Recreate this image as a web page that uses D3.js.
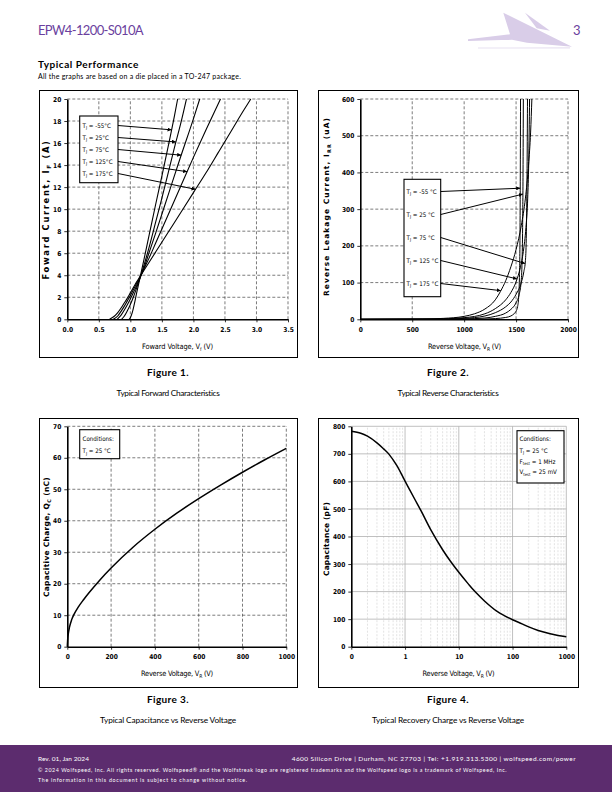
<!DOCTYPE html>
<html><head><meta charset="utf-8">
<script src="https://cdn.jsdelivr.net/npm/d3@7"></script>
<style>body{margin:0;background:#fff}svg{display:block}</style>
</head><body>
<svg id="page" width="612" height="792"></svg>
<script>
// ---------------- DATA ----------------
// Figure 1: forward characteristics [V, A]
const fwdLabels = ["T_{J} = -55°C","T_{J} = 25°C","T_{J} = 75°C","T_{J} = 125°C","T_{J} = 175°C"];
const fwdM55 = [[0.98,0],[1.0,0.15],[1.03,0.6],[1.06,1.3],[1.1,2.4],[1.15,3.7],[1.2,5.0],[1.3,7.7],[1.4,10.4],[1.5,13.0],[1.6,15.7],[1.7,18.5],[1.75,20]];
const fwd25  = [[0.86,0],[0.9,0.25],[0.95,0.75],[1.0,1.35],[1.05,2.05],[1.1,2.85],[1.15,3.7],[1.2,4.6],[1.3,6.6],[1.4,8.8],[1.5,11.0],[1.6,13.3],[1.7,15.6],[1.8,17.8],[1.89,20]];
const fwd75  = [[0.79,0],[0.85,0.35],[0.9,0.8],[0.95,1.3],[1.0,1.85],[1.05,2.45],[1.1,3.05],[1.15,3.7],[1.2,4.4],[1.3,6.1],[1.4,7.8],[1.6,11.3],[1.8,14.8],[2.0,18.2],[2.1,20]];
const fwd125 = [[0.73,0],[0.8,0.3],[0.85,0.7],[0.9,1.15],[0.95,1.65],[1.0,2.15],[1.05,2.7],[1.1,3.25],[1.15,3.8],[1.2,4.4],[1.3,5.6],[1.4,6.9],[1.6,9.5],[1.8,12.1],[2.0,14.7],[2.2,17.2],[2.43,20]];
const fwd175 = [[0.67,0],[0.75,0.3],[0.8,0.6],[0.85,1.0],[0.9,1.45],[0.95,1.9],[1.0,2.4],[1.05,2.9],[1.1,3.4],[1.15,3.85],[1.2,4.3],[1.3,5.2],[1.4,6.1],[1.6,7.9],[1.8,9.7],[2.0,11.5],[2.2,13.3],[2.4,15.2],[2.6,17.1],[2.8,19.0],[2.91,20]];
const fwdArrowCurrents = [17.2,16.1,14.9,13.4,11.8];
const fwdXTicks = [0,0.5,1,1.5,2,2.5,3,3.5];
const fwdYTicks = [0,2,4,6,8,10,12,14,16,18,20];

// Figure 2: reverse characteristics [V, uA]
const revLabels = ["T_{J} = -55 °C","T_{J} = 25 °C","T_{J} = 75 °C","T_{J} = 125 °C","T_{J} = 175 °C"];
const revM55 = [[0,0],[1000,0.2],[1200,0.8],[1300,2],[1400,5],[1450,9],[1480,15],[1500,22],[1515,35],[1525,60],[1532,110],[1537,200],[1540,350],[1543,600]];
const rev25  = [[0,0],[900,0.5],[1000,1],[1200,3.5],[1300,8],[1400,17],[1450,27],[1500,45],[1530,68],[1548,100],[1558,160],[1563,250],[1567,400],[1570,600]];
const rev75  = [[0,0],[800,0.5],[1000,2.5],[1200,9],[1300,18],[1400,34],[1450,47],[1500,68],[1550,100],[1575,130],[1590,160],[1598,220],[1603,320],[1607,450],[1610,600]];
const rev125 = [[0,0],[700,0.5],[1000,4.5],[1200,15],[1300,29],[1400,53],[1450,73],[1500,102],[1540,140],[1570,185],[1595,250],[1612,330],[1622,430],[1630,600]];
const rev175 = [[0,0],[600,0.8],[800,2.5],[1000,8],[1100,15],[1200,28],[1300,53],[1350,76],[1400,105],[1450,143],[1500,190],[1550,255],[1590,330],[1620,420],[1640,510],[1652,600]];
const revArrowCurrents = [357,341,152,110,78];
const revXTicks = [0,500,1000,1500,2000];
const revYTicks = [0,100,200,300,400,500,600];

// Figure 3: capacitive charge [V, nC]
const qcVolt   = [0,2,5,10,20,30,50,75,100,150,200,300,400,500,600,700,800,900,1000];
const qcCharge = [0,2.5,4.3,6.2,8.6,10.2,12.6,15.0,17.2,21.3,25.0,31.6,37.3,42.4,47.0,51.3,55.4,59.3,63];
const qcXTicks = [0,200,400,600,800,1000];
const qcYTicks = [0,10,20,30,40,50,60,70];

// Figure 4: capacitance [V, pF]
const capVolt = [0.1,0.15,0.2,0.3,0.4,0.5,0.7,1,1.5,2,3,5,7,10,15,20,30,50,70,100,150,200,300,500,700,1000];
const capPf   = [782,775,764,740,718,699,658,601,537,492,425,352,310,270,228,200,166,130,113,98,83,72,59,47,41,36];
const capXTicks = [0.1,1,10,100,1000];
const capXLabels = ["0","1","10","100","1000"];
const capYTicks = [0,100,200,300,400,500,600,700,800];

// ---------------- DRAW ----------------
const NARROW = "'Liberation Sans Narrow','Arial Narrow','DejaVu Sans Condensed',sans-serif";
const VERD = "'DejaVu Sans',Verdana,sans-serif";
const BODY = "Lato,'Open Sans',sans-serif";
const svg = d3.select("#page");
const defs = svg.append("defs");
defs.append("marker").attr("id","arr").attr("viewBox","0 0 6 6").attr("refX",6).attr("refY",3)
  .attr("markerWidth",4).attr("markerHeight",4).attr("orient","auto")
  .append("path").attr("d","M0,0L6,3L0,6z").attr("fill","#000");

function rich(t, str, fs){
  let shift = false;
  str.split(/(_\{[^}]*\})/).forEach(p=>{
    if(!p) return;
    if(p.startsWith("_{")){
      t.append("tspan").attr("dy", fs*0.28).style("font-size", (fs*0.68)+"px").text(p.slice(2,-1));
      shift = true;
    } else {
      const s = t.append("tspan").text(p);
      if(shift){ s.attr("dy", -fs*0.28); shift=false; }
    }
  });
  return t;
}
function txt(x,y,str,o){
  o = o||{};
  let size = o.size||8;
  const t = svg.append("text").attr("x",x).attr("y",y)
    .attr("font-family",o.family||BODY).attr("font-size",size)
    .attr("font-weight",o.weight||"normal").attr("fill",o.fill||"#000")
    .attr("text-anchor",o.anchor||"start");
  if(o.rotate) t.attr("transform",`rotate(-90,${x},${y})`);
  rich(t,str,size);
  if(o.fit){
    const L = t.node().getComputedTextLength();
    const n = t.text().length;
    t.attr("letter-spacing", ((o.fit-L)/n).toFixed(3));
  }
  return t;
}
function frame(x0,y0,x1,y1){
  svg.append("rect").attr("x",x0).attr("y",y0).attr("width",x1-x0).attr("height",y1-y0)
    .attr("fill","none").attr("stroke","#000").attr("stroke-width",1);
}
function interpX(series, target){
  for(let i=1;i<series.length;i++){
    const [x0,y0]=series[i-1],[x1,y1]=series[i];
    if((y0-target)*(y1-target)<=0 && y1!==y0) return x0+(target-y0)/(y1-y0)*(x1-x0);
  }
  return series[series.length-1][0];
}
function grid(x,y,xv,yv,st){
  const g = svg.append("g").attr("stroke",st.color).attr("stroke-width",st.width||0.8)
    .attr("stroke-dasharray",st.dash||null).attr("fill","none");
  xv.forEach(v=>g.append("line").attr("x1",x(v)).attr("x2",x(v)).attr("y1",y.range()[0]).attr("y2",y.range()[1]));
  yv.forEach(v=>g.append("line").attr("y1",y(v)).attr("y2",y(v)).attr("x1",x.range()[0]).attr("x2",x.range()[1]));
}
function axes(x,y,xTicks,yTicks,xFmt,yFmt){
  const gx = svg.append("g").attr("transform",`translate(0,${y.range()[0]})`)
    .call(d3.axisBottom(x).tickValues(xTicks).tickFormat(xFmt).tickSize(3).tickSizeOuter(0).tickPadding(5));
  const gy = svg.append("g").attr("transform",`translate(${x.range()[0]},0)`)
    .call(d3.axisLeft(y).tickValues(yTicks).tickFormat(yFmt).tickSize(3).tickSizeOuter(0).tickPadding(3));
  [gx,gy].forEach(g=>{
    g.select(".domain").attr("stroke","#000").attr("stroke-width",1.6);
    g.selectAll(".tick line").attr("stroke","#000").attr("stroke-width",0.8);
    g.selectAll(".tick text").attr("font-family",NARROW).attr("font-weight","bold").attr("font-size",6.6).attr("fill","#000");
  });
}
function curve(x,y,data,w,c){
  svg.append("path").datum(data).attr("fill","none").attr("stroke","#000").attr("stroke-width",w||1.1)
    .attr("stroke-linejoin","round")
    .attr("d",d3.line().x(d=>x(d[0])).y(d=>y(d[1])).curve(c||d3.curveMonotoneX));
}
function box(x0,y0,x1,y1){
  svg.append("rect").attr("x",x0).attr("y",y0).attr("width",x1-x0).attr("height",y1-y0)
    .attr("fill","#fff").attr("stroke","#000").attr("stroke-width",1.1);
}

// Header
svg.append("polygon").attr("points","468,39.3 510,34.3 503.3,12.7 572,46.7 527,42.7 512,39.8 468,40.9").attr("fill","#d9cde8");
svg.append("polygon").attr("points","525,12.7 550,30.7 536.7,28.3").attr("fill","#d9cde8");
svg.append("polygon").attr("points","478,47.6 570,47.2 570,48.4 478,48.4").attr("fill","#e8e1f1");
txt(38,35,"EPW4-1200-S010A",{size:13,fill:"#6b3f9e",fit:105});
txt(573,35,"3",{size:13,fill:"#6b3f9e"});
txt(38,68,"Typical Performance",{size:10,weight:"bold",fit:101});
txt(38,79,"All the graphs are based on a die placed in a TO-247 package.",{size:7,fit:203});

// ---------- Figure 1 ----------
frame(39.5,90.5,297.5,357.5);
{
  const x = d3.scaleLinear([0,3.5],[67.3,288]);
  const y = d3.scaleLinear([0,20],[319.3,99]);
  grid(x,y,fwdXTicks.slice(1),fwdYTicks.slice(1),{color:"#444",dash:"3,2",width:0.7});
  const series=[fwdM55,fwd25,fwd75,fwd125,fwd175];
  series.forEach(s=>curve(x,y,s));
  axes(x,y,fwdXTicks,fwdYTicks,d3.format(".1f"),d3.format("d"));
  box(79.7,116,118,182.7);
  fwdLabels.forEach((l,i)=>{
    const cy = 125.5+12*i;
    txt(82.5,cy+2.2,l,{family:NARROW,size:6.2});
    const tx = interpX(series[i],fwdArrowCurrents[i]);
    svg.append("line").attr("x1",118).attr("y1",cy).attr("x2",x(tx)).attr("y2",y(fwdArrowCurrents[i]))
      .attr("stroke","#000").attr("stroke-width",1).attr("marker-end","url(#arr)");
  });
  txt(177.5,349,"Foward Voltage, V_{f} (V)",{family:NARROW,size:7.4,anchor:"middle",fit:71});
  txt(49,209.5,"Foward Current, I_{F} (A)",{family:VERD,size:8.4,weight:"bold",anchor:"middle",rotate:true,fit:140});
}
txt(168,376,"Figure 1.",{size:10,weight:"bold",anchor:"middle",fit:42});
txt(168,396,"Typical Forward Characteristics",{size:8.3,anchor:"middle",fit:103});

// ---------- Figure 2 ----------
frame(318.5,90.5,578.5,357.5);
{
  const x = d3.scaleLinear([0,2000],[360.3,568]);
  const y = d3.scaleLinear([0,600],[319.3,99]);
  grid(x,y,revXTicks.slice(1),revYTicks.slice(1),{color:"#444",dash:"3,2",width:0.7});
  const series=[revM55,rev25,rev75,rev125,rev175];
  series.forEach(s=>curve(x,y,s,1));
  axes(x,y,revXTicks,revYTicks,d3.format("d"),d3.format("d"));
  box(404,179.3,440.7,296.7);
  revLabels.forEach((l,i)=>{
    const cy = 191.5+23*i;
    txt(406.5,cy+2.2,l,{family:NARROW,size:6.2});
    const tx = interpX(series[i],revArrowCurrents[i]);
    svg.append("line").attr("x1",440.7).attr("y1",cy).attr("x2",x(tx)).attr("y2",y(revArrowCurrents[i]))
      .attr("stroke","#000").attr("stroke-width",1).attr("marker-end","url(#arr)");
  });
  txt(464.5,349,"Reverse Voltage, V_{R} (V)",{family:NARROW,size:7.4,anchor:"middle",fit:73});
  txt(329,206.5,"Reverse Leakage Current, I_{RR} (uA)",{family:VERD,size:7.4,weight:"bold",anchor:"middle",rotate:true,fit:179});
}
txt(448,376,"Figure 2.",{size:10,weight:"bold",anchor:"middle",fit:42});
txt(448,396,"Typical Reverse Characteristics",{size:8.3,anchor:"middle",fit:101});

// ---------- Figure 3 ----------
frame(39.5,418.5,297.5,687.5);
{
  const x = d3.scaleLinear([0,1000],[67.3,286.3]);
  const y = d3.scaleLinear([0,70],[646.7,426.3]);
  grid(x,y,qcXTicks.slice(1),qcYTicks.slice(1),{color:"#444",dash:"3,2",width:0.7});
  curve(x,y,qcVolt.map((v,i)=>[v,qcCharge[i]]),1.5);
  axes(x,y,qcXTicks,qcYTicks,d3.format("d"),d3.format("d"));
  box(79.7,429.7,119.7,458.7);
  txt(82.5,440.5,"Conditions:",{family:NARROW,size:6.2});
  txt(82.5,453,"T_{J} = 25 °C",{family:NARROW,size:6.2});
  txt(177,676,"Reverse Voltage, V_{R} (V)",{family:NARROW,size:7.4,anchor:"middle",fit:72});
  txt(49,537,"Capacitive Charge, Q_{C} (nC)",{family:VERD,size:7.4,weight:"bold",anchor:"middle",rotate:true,fit:120});
}
txt(168,703,"Figure 3.",{size:10,weight:"bold",anchor:"middle",fit:42});
txt(168,723,"Typical Capacitance vs Reverse Voltage",{size:8.3,anchor:"middle",fit:136});

// ---------- Figure 4 ----------
frame(318.5,418.5,578.5,687.5);
{
  const x = d3.scaleLog([0.1,1000],[351.3,566.3]);
  const y = d3.scaleLinear([0,800],[646.7,426.3]);
  const minor=[];
  [0.1,1,10,100].forEach(d=>{for(let k=2;k<=9;k++) minor.push(d*k);});
  grid(x,y,minor,[],{color:"#d0d0d0",dash:"2,1.5",width:0.6});
  grid(x,y,capXTicks.slice(1),capYTicks.slice(1),{color:"#b0b0b0",width:0.8});
  curve(x,y,capVolt.map((v,i)=>[v,capPf[i]]),1.5,d3.curveCatmullRom.alpha(0.5));
  axes(x,y,capXTicks,capYTicks,(d,i)=>capXLabels[i],d3.format("d"));
  box(517,430.7,564,483);
  txt(519.5,440.5,"Conditions:",{family:NARROW,size:6.2});
  txt(519.5,452.5,"T_{J} = 25 °C",{family:NARROW,size:6.2});
  txt(519.5,463.5,"F_{test} = 1 MHz",{family:NARROW,size:6.2});
  txt(519.5,474,"V_{test} = 25 mV",{family:NARROW,size:6.2});
  txt(458.5,676,"Reverse Voltage, V_{R} (V)",{family:NARROW,size:7.4,anchor:"middle",fit:72});
  txt(329,539,"Capacitance (pF)",{family:VERD,size:7.4,weight:"bold",anchor:"middle",rotate:true,fit:74});
}
txt(448,703,"Figure 4.",{size:10,weight:"bold",anchor:"middle",fit:42});
txt(448,723,"Typical Recovery Charge vs Reverse Voltage",{size:8.3,anchor:"middle",fit:152});

// Footer
svg.append("rect").attr("x",0).attr("y",745).attr("width",612).attr("height",47).attr("fill","#5c2c6e");
txt(38,761,"Rev. 01, Jan 2024",{size:6.5,fill:"#fff",fit:51});
txt(576,761,"4600 Silicon Drive  |  Durham, NC 27703  |  Tel: +1.919.313.5300  |  wolfspeed.com/power",{size:6.5,fill:"#fff",anchor:"end",fit:287});
txt(38,772,"© 2024 Wolfspeed, Inc. All rights reserved. Wolfspeed® and the Wolfstreak logo are registered trademarks and the Wolfspeed logo is a trademark of Wolfspeed, Inc.",{size:5.3,fill:"#fff",fit:469});
txt(38,782,"The information in this document is subject to change without notice.",{size:5.3,fill:"#fff",fit:210});
</script>
</body></html>
